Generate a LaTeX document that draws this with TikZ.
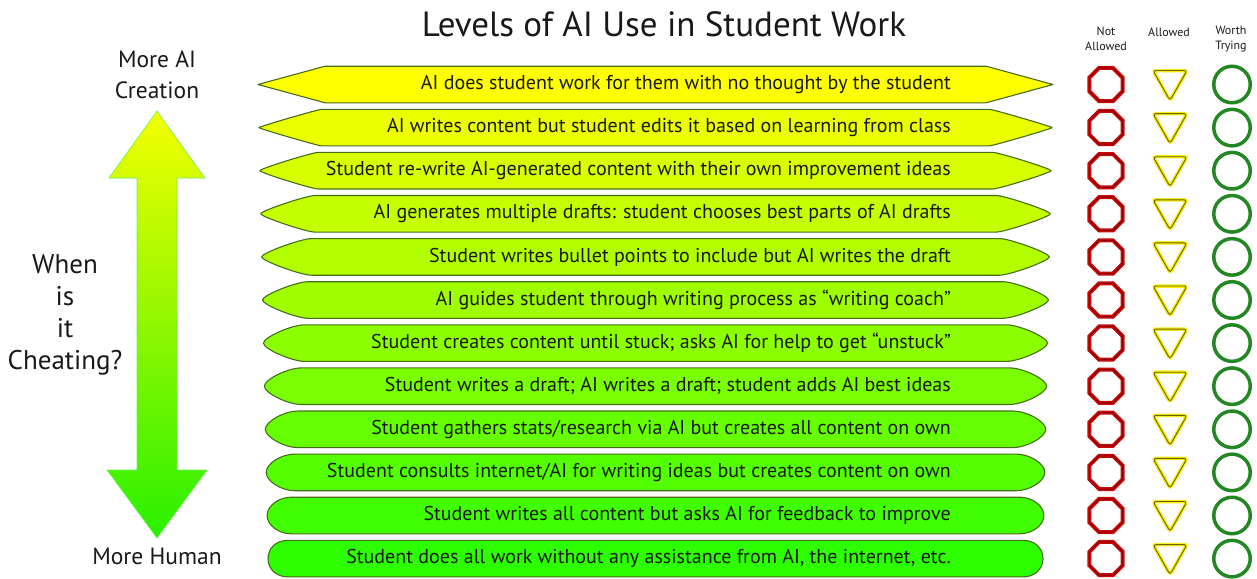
\documentclass[tikz,border=0pt]{standalone}
\usepackage{fontspec}
\setmainfont{PT Sans}
\usetikzlibrary{shapes.geometric}
\definecolor{txtc}{RGB}{25,25,25}
\definecolor{rowedge}{RGB}{70,110,25}
\definecolor{stopred}{RGB}{200,10,10}
\definecolor{stopdark}{RGB}{140,0,0}
\definecolor{yieldyel}{RGB}{245,235,20}
\definecolor{yielddark}{RGB}{110,100,0}
\definecolor{gogreen}{RGB}{35,135,35}
\definecolor{arrtop}{RGB}{245,255,0}
\definecolor{arrbot}{RGB}{40,240,0}
\tikzset{
  rowshape/.style={fill=rowfill, draw=rowedge, line width=1.1pt, line join=round},
  rowtext/.style={font=\fontsize{20}{22}\selectfont, text=txtc, inner sep=0pt, anchor=east},
  sidetext/.style={font=\fontsize{23.5}{31}\selectfont, text=txtc, align=center, inner sep=0pt},
  cheattext/.style={font=\fontsize{27}{32}\selectfont, text=txtc, align=center, inner sep=0pt},
  headtext/.style={font=\fontsize{12}{15}\selectfont, text=txtc, align=center, inner sep=0pt},
  octa/.style={regular polygon, regular polygon sides=8, minimum size=36pt, inner sep=0pt, draw=stopred, line width=4pt},
  octainner/.style={regular polygon, regular polygon sides=8, minimum size=36pt, inner sep=0pt, draw=stopdark, line width=1pt},
  ring/.style={circle, minimum size=36.5pt, inner sep=0pt, draw=gogreen, line width=3.5pt},
}
\begin{document}
\begin{tikzpicture}[x=1pt,y=-1pt]
\useasboundingbox (0,0) rectangle (1257,578);
% title
\node[font=\fontsize{35}{40}\selectfont, text=txtc, inner sep=0pt] (title) at (664,24) {Levels of AI Use in Student Work};
% column headers
\node[headtext] (hnot) at (1106,39) {Not\\Allowed};
\node[headtext] (hallow) at (1169,32) {Allowed};
\node[headtext] (hworth) at (1231,39) {Worth\\Trying};
% side labels
\node[sidetext] (moreai) at (157,75) {More AI\\Creation};
\node[cheattext] (cheat) at (65,315) {When\\is\\it\\Cheating?};
\node[sidetext] (morehuman) at (157,556) {More Human};
% big double arrow
\coordinate (atop) at (157,111);
\coordinate (abot) at (157,538);
\shade[top color=arrtop, bottom color=arrbot, draw=arrbot!70!white, line width=0.6pt]
  (atop) -- (205,178) -- (177,178) -- (177,470) -- (207,470) -- (abot)
  -- (107,470) -- (137,470) -- (137,178) -- (109,178) -- cycle;
% rows
\foreach \i/\txt in {
 0/{AI does student work for them with no thought by the student},
 1/{AI writes content but student edits it based on learning from class},
 2/{Student re-write AI-generated content with their own improvement ideas},
 3/{AI generates multiple drafts: student chooses best parts of AI drafts},
 4/{Student writes bullet points to include but AI writes the draft},
 5/{AI guides student through writing process as “writing coach”},
 6/{Student creates content until stuck; asks AI for help to get “unstuck”},
 7/{Student writes a draft; AI writes a draft; student adds AI best ideas},
 8/{Student gathers stats/research via AI but creates all content on own},
 9/{Student consults internet/AI for writing ideas but creates content on own},
 10/{Student writes all content but asks AI for feedback to improve},
 11/{Student does all work without any assistance from AI, the internet, etc.}}
{
 \pgfmathsetmacro\tt{\i/11}
 \pgfmathsetmacro\ry{84.5+43.1*\i}
 \pgfmathsetmacro\rl{258+10*\tt}
 \pgfmathsetmacro\rr{1053-10*\tt}
 \pgfmathsetmacro\rd{67-47*\tt}
 \pgfmathsetmacro\rk{0.58*\tt}
 \pgfmathsetmacro\rh{18.3}
 \pgfmathtruncatemacro\red{255-210*\tt}
 \definecolor{rowfill}{RGB}{\red,255,0}
 \path[rowshape] (\rl+\rd,\ry-\rh) -- (\rr-\rd,\ry-\rh)
   .. controls (\rr-\rd+\rk*\rd,\ry-\rh) and (\rr,\ry-\rk*\rh) .. (\rr,\ry)
   .. controls (\rr,\ry+\rk*\rh) and (\rr-\rd+\rk*\rd,\ry+\rh) .. (\rr-\rd,\ry+\rh)
   -- (\rl+\rd,\ry+\rh)
   .. controls (\rl+\rd-\rk*\rd,\ry+\rh) and (\rl,\ry+\rk*\rh) .. (\rl,\ry)
   .. controls (\rl,\ry-\rk*\rh) and (\rl+\rd-\rk*\rd,\ry-\rh) .. cycle;
 \node[rowtext] (row\i) at (951,\ry) {\txt};
 % symbols
 \node[octa] (no\i) at (1106,\ry) {};
 \node[octainner] (noi\i) at (1106,\ry) {};
 \coordinate (al\i) at (1170,\ry);
 \draw[yieldyel, line width=3.5pt, rounded corners=3pt] (1153,\ry-14) -- (1187,\ry-14) -- (1170,\ry+16) -- cycle;
 \draw[yielddark, line width=0.9pt, rounded corners=3pt] (1153,\ry-14) -- (1187,\ry-14) -- (1170,\ry+16) -- cycle;
 \node[ring] (wt\i) at (1232,\ry) {};
}
\end{tikzpicture}
\end{document}
